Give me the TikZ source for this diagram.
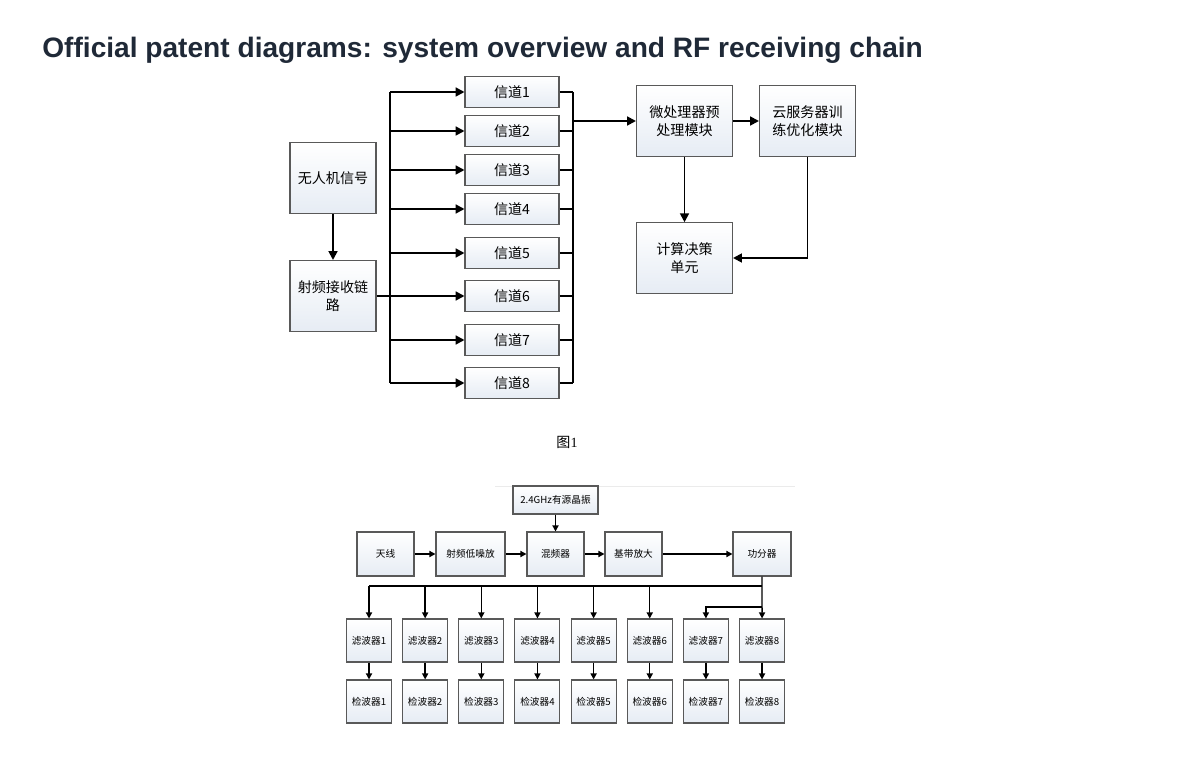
\documentclass[tikz,border=0pt]{standalone}
\usepackage{fontspec}
\setmainfont{Liberation Sans}
\newfontfamily\cjk{Noto Sans CJK SC}
\newfontfamily\serifnum{Liberation Serif}
\usetikzlibrary{arrows.meta}

\definecolor{titlecol}{HTML}{1F2937}
\definecolor{boxtop}{HTML}{E6ECF4}

\begin{document}
\begin{tikzpicture}[x=0.02cm,y=-0.02cm,
  blk/.style={draw=black!65,line width=0.6pt,top color=white,bottom color=boxtop,
    align=center,inner sep=1pt,font=\cjk\fontsize{8}{10.5}\selectfont},
  bigblk/.style={blk,minimum width=1.72cm,minimum height=1.42cm},
  chan/.style={blk,minimum width=1.88cm,minimum height=0.62cm},
  modblk/.style={blk,minimum width=1.92cm,minimum height=1.41cm},
  smallblk/.style={blk,font=\cjk\fontsize{5.5}{7}\selectfont,minimum height=0.88cm},
  wire/.style={line width=1.1pt},
  arr/.style={wire,-{Triangle[length=5pt,width=5pt]}},
  swire/.style={line width=0.8pt},
  sarr/.style={swire,-{Triangle[length=3.5pt,width=3.5pt]}}]

\useasboundingbox (0,0) rectangle (1200,780);

\node[anchor=west,inner sep=0pt,text=titlecol,font=\bfseries\fontsize{16}{19}\selectfont] (title) at (42,50)
  {Official patent diagrams: system overview and RF receiving chain};

% system overview
\node[bigblk] (sig) at (333,178) {无人机信号};
\node[bigblk] (rf)  at (333,296) {射频接收链\\路};

\foreach \i/\y in {1/92,2/131,3/170,4/209,5/253,6/296,7/340,8/383}
  \node[chan] (ch\i) at (512,\y) {信道\i};

\node[modblk] (mcu)   at (684.5,121) {微处理器预\\处理模块};
\node[modblk] (cloud) at (807.5,121) {云服务器训\\练优化模块};
\node[modblk] (dec)   at (684.5,258) {计算决策\\单元};

\coordinate (fanin)  at (390,0);
\coordinate (fanout) at (573,0);

\draw[arr] (sig) edge (rf);
\draw[wire] (rf.east) -- (rf.east -| fanin);
\draw[wire] (ch1.west -| fanin) -- (ch8.west -| fanin);
\draw[wire] (ch1.east -| fanout) -- (ch8.east -| fanout);
\foreach \i in {1,...,8} {
  \draw[arr] (ch\i.west -| fanin) -- (ch\i.west);
  \draw[wire] (ch\i.east) -- (ch\i.east -| fanout);
}
\draw[arr] (fanout |- mcu.west) -- (mcu.west);
\draw[arr] (mcu) edge (cloud);
\draw[arr] (mcu) edge (dec);
\draw[arr] (cloud.south) |- (dec.east);

\node[font=\fontsize{8}{10}\selectfont] (figlbl) at (567,442) {{\cjk 图}\serifnum 1};

% RF receiving chain
\coordinate (ruleL) at (495,486);
\coordinate (ruleR) at (795,486);
\draw[black!8] (ruleL) -- (ruleR);

\node[smallblk,minimum width=1.7cm,minimum height=0.56cm] (osc) at (555.5,500) {2.4GHz有源晶振};
\node[smallblk,minimum width=1.14cm] (ant) at (385.5,554) {天线};
\node[smallblk,minimum width=1.38cm] (lna) at (470.5,554) {射频低噪放};
\node[smallblk,minimum width=1.14cm] (mix) at (555.5,554) {混频器};
\node[smallblk,minimum width=1.14cm] (bb)  at (633.5,554) {基带放大};
\node[smallblk,minimum width=1.16cm] (spl) at (762,554)   {功分器};

\foreach \i in {1,...,8} {
  \node[smallblk,minimum width=0.9cm,minimum height=0.86cm] (flt\i) at ({369+(\i-1)*56.15},640.5) {滤波器\i};
  \node[smallblk,minimum width=0.9cm,minimum height=0.86cm] (det\i) at ({369+(\i-1)*56.15},701.5) {检波器\i};
  \draw[sarr] (flt\i) -- (det\i);
}

\draw[sarr] (osc) -- (mix);
\draw[sarr] (ant) -- (lna);
\draw[sarr] (lna) -- (mix);
\draw[sarr] (mix) -- (bb);
\draw[sarr] (bb) -- (spl);

\coordinate (bus) at (0,586);
\coordinate (br7) at (0,607);
\draw[swire] (flt1.north |- bus) -- (spl.south |- bus);
\foreach \i in {1,...,6}
  \draw[sarr] (flt\i.north |- bus) -- (flt\i.north);
\draw[sarr] (spl.south) -- (flt8.north);
\draw[sarr] (flt8.north |- br7) -| (flt7.north);
\end{tikzpicture}
\end{document}
